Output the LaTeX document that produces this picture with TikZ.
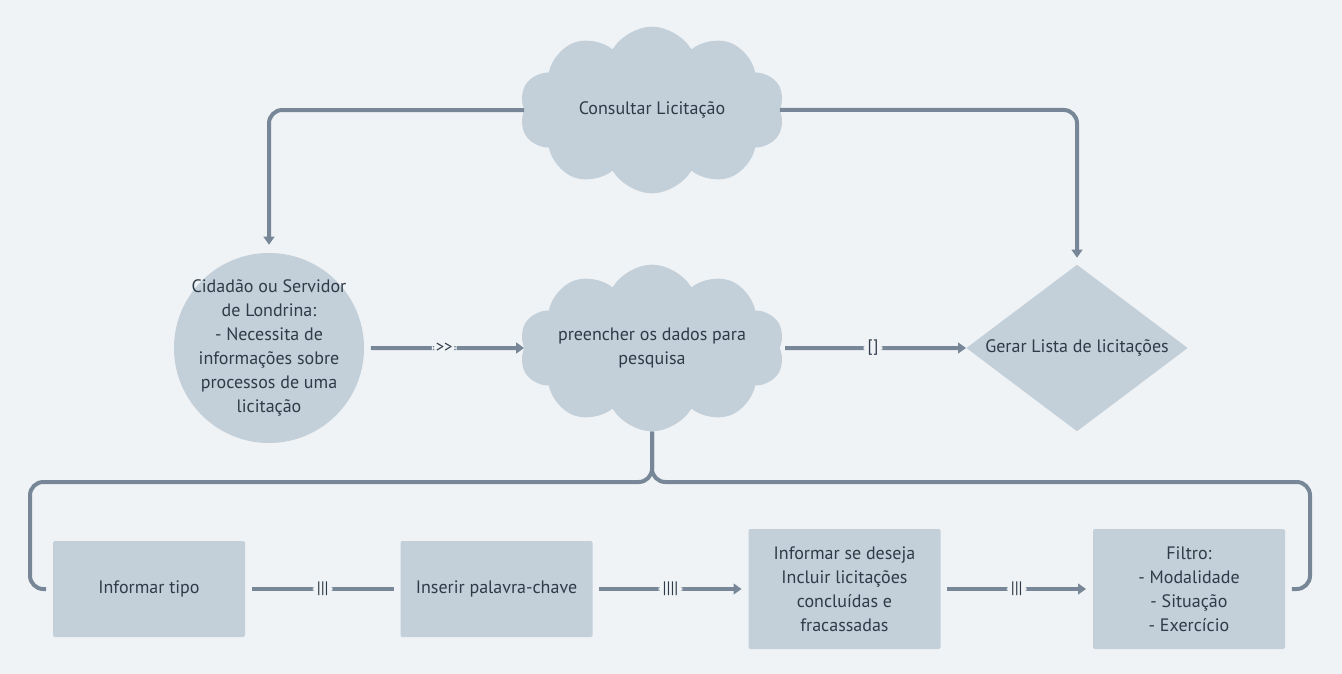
\documentclass[tikz,border=0pt]{standalone}
\usepackage{fontspec}
\setmainfont{PT Sans}
\usetikzlibrary{positioning,shapes.geometric,shapes.symbols,arrows.meta}

\definecolor{bgcol}{HTML}{EFF3F6}
\definecolor{shapecol}{HTML}{C3CFD9}
\definecolor{linecol}{HTML}{778797}
\definecolor{textcol}{HTML}{2F3B48}

\tikzset{
  txt/.style={text=textcol, font=\fontsize{13.5}{18}\selectfont, align=center},
  blob/.style={fill=shapecol, draw=none},
  cloudnode/.style={blob, cloud, cloud puffs=10, cloud puff arc=120, aspect=1.5,
    minimum width=199pt, minimum height=125pt, inner sep=0pt},
  boxnode/.style={blob, txt, rectangle, rounded corners=1.5pt, minimum width=144pt},
  conn/.style={draw=linecol, line width=3pt, rounded corners=10pt},
  tip/.style={-{Triangle[length=6pt,width=8pt]}},
  lbl/.style={fill=bgcol, text=textcol, font=\fontsize{12.5}{13}\selectfont, inner xsep=3pt, inner ysep=2pt}
}

\begin{document}
\begin{tikzpicture}[x=0.75pt, y=-0.75pt]
    \fill[bgcol] (0,0) rectangle (1342,674);
    \useasboundingbox (0,0) rectangle (1342,674);

    % Top and middle row
    \node[cloudnode, label={[txt]center:Consultar Licitação}] (consulta) at (652,110) {};
    \node[blob, circle, minimum size=142.5pt, inner sep=0pt,
      label={[txt]center:Cidadão ou Servidor\\de Londrina:\\- Necessita de\\informações sobre\\processos de uma\\licitação}] (cidadao) at (269,348) {};
    \node[cloudnode, label={[txt]center:preencher os dados para\\pesquisa}] (pesquisa) at (652,348) {};
    \node[blob, diamond, minimum width=166pt, minimum height=125pt, inner sep=0pt,
      label={[txt]center:Gerar Lista de licitações}] (gerar) at (1077,348) {};

    % Bottom row
    \node[boxnode, minimum height=72pt] (tipo) at (149,589) {Informar tipo};
    \node[boxnode, minimum height=72pt] (palavra) at (496.5,589) {Inserir palavra-chave};
    \node[boxnode, minimum height=90pt] (incluir) at (844.5,589) {Informar se deseja\\Incluir licitações\\concluídas e\\fracassadas};
    \node[boxnode, minimum height=90pt] (filtro) at (1189,589) {Filtro:\\- Modalidade\\- Situação\\- Exercício};

    % Corners of the brace
    \coordinate (lcorner) at (30,482);
    \coordinate (rcorner) at (1310,482);

    % Connections from the top cloud
    \draw[conn, tip, shorten >=6pt] (consulta.west) -| (cidadao.north);
    \draw[conn, tip, shorten >=5pt] (consulta.east) -| (gerar.north);

    % Middle row
    \draw[conn, tip, shorten <=5pt] (cidadao) -- node[lbl] {>{}>} (pesquisa);
    \draw[conn, tip, shorten <=4pt] (pesquisa) -- node[lbl] {[\kern0.5pt]} (gerar);

    % Brace down to the bottom row
    \draw[conn] (pesquisa.south) |- (lcorner) |- ([xshift=-5pt]tipo.west);
    \draw[conn] (pesquisa.south) |- (rcorner) |- ([xshift=5pt]filtro.east);

    % Bottom row
    \draw[conn, shorten <=5pt, shorten >=5pt] (tipo) -- node[lbl] {|||} (palavra);
    \draw[conn, tip, shorten <=5pt, shorten >=5pt] (palavra) -- node[lbl] {||||} (incluir);
    \draw[conn, tip, shorten <=5pt, shorten >=5pt] (incluir) -- node[lbl] {|||} (filtro);
\end{tikzpicture}
\end{document}
